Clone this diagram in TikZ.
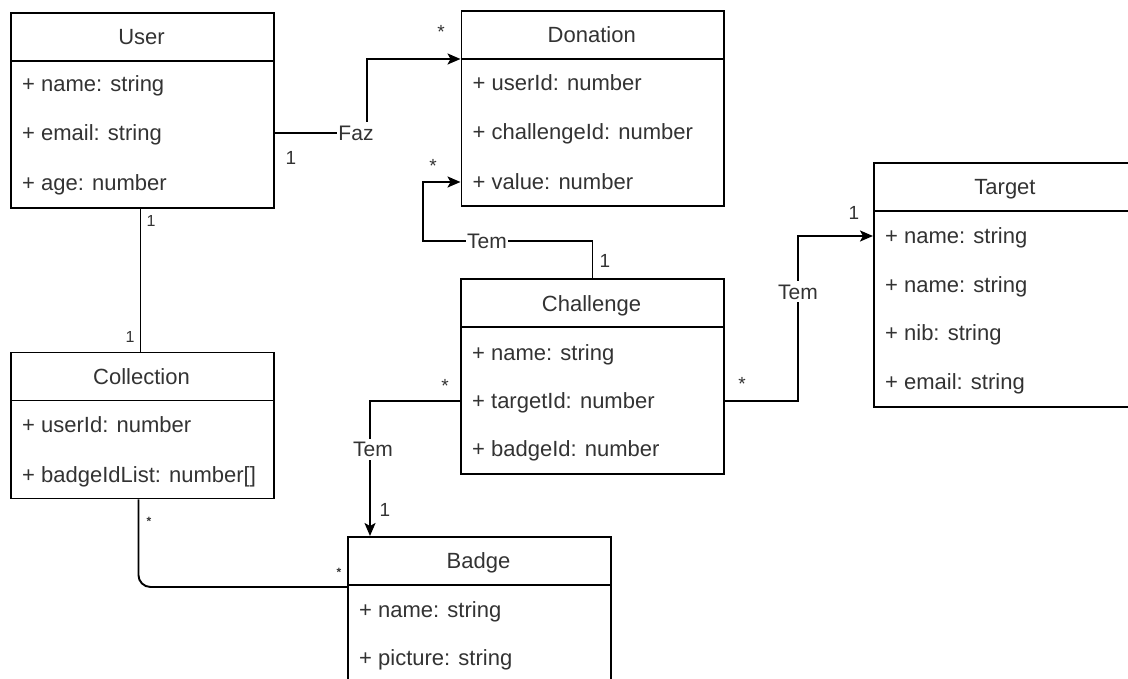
\documentclass[tikz,border=0pt]{standalone}
\usepackage{fontspec}
\setmainfont{Liberation Sans}
\usetikzlibrary{arrows.meta}
\definecolor{ink}{HTML}{333333}
\begin{document}
\begin{tikzpicture}[x=1pt,y=-1pt,
  box/.style={draw=black, line width=1.9pt, fill=white, inner sep=0pt, anchor=north west},
  hline/.style={draw=black, line width=1.9pt},
  title/.style={font=\fontsize{22}{26}\selectfont, text=ink, inner sep=0pt, text height=15.75pt, text depth=0pt},
  attr/.style={title, anchor=west},
  rel/.style={draw=black, line width=1.9pt},
  arr/.style={rel, -{Stealth[length=13pt,width=11pt,inset=3pt]}},
  tag/.style={font=\fontsize{21}{25}\selectfont, text=ink, fill=white, inner xsep=1pt, inner ysep=3pt, text height=15pt, text depth=0pt},
  mult/.style={font=\fontsize{19}{23}\selectfont, text=ink, inner sep=0pt, text height=13.6pt, text depth=0pt},
  multsm/.style={font=\fontsize{16}{19}\selectfont, text=ink, inner sep=0pt, text height=11.5pt, text depth=0pt},
  startiny/.style={font=\fontsize{12}{14}\selectfont\bfseries, text=ink, inner sep=0pt}
]
\useasboundingbox (0,0) rectangle (1128,679);
\clip (0,0) rectangle (1128,679);

% ---------- User ----------
\node[box, minimum width=263pt, minimum height=195pt] (user) at (10,12) {};
\draw[hline] (10,61) coordinate (userHL) -- (273,61);
\node[title] (userT) at (141.5,36.5) {User};
\node[attr] (uname)  at (22,84)  {+ name: string};
\node[attr] (uemail) at (22,133) {+ email: string};
\node[attr] (uage)   at (22,183) {+ age: number};

% ---------- Donation ----------
\node[box, minimum width=262.5pt, minimum height=195pt] (donation) at (460.5,10) {};
\draw[hline] (460.5,59) coordinate (donHL) -- (723,59);
\node[title] (donT) at (591.75,35) {Donation};
\node[attr] (duser)  at (472.5,83)  {+ userId: number};
\node[attr] (dchal)  at (472.5,132) {+ challengeId: number};
\node[attr] (dvalue) at (472.5,182) {+ value: number};

% ---------- Target ----------
\node[box, minimum width=264pt, minimum height=243.5pt] (target) at (873,162.5) {};
\draw[hline] (873,211) coordinate (tarHL) -- (1137,211);
\node[title] (tarT) at (1005,187) {Target};
\node[attr] (tname1) at (885,236) {+ name: string};
\node[attr] (tname2) at (885,285) {+ name: string};
\node[attr] (tnib)   at (885,333) {+ nib: string};
\node[attr] (temail) at (885,382) {+ email: string};

% ---------- Challenge ----------
\node[box, minimum width=263pt, minimum height=195pt] (challenge) at (460,278) {};
\draw[hline] (460,327) coordinate (chaHL) -- (723,327);
\node[title] (chaT) at (591.5,303.5) {Challenge};
\node[attr] (cname)   at (472,353) {+ name: string};
\node[attr] (ctarget) at (472,401) {+ targetId: number};
\node[attr] (cbadge)  at (472,449) {+ badgeId: number};

% ---------- Collection ----------
\node[box, minimum width=263pt, minimum height=146pt] (collection) at (10,351.5) {};
\draw[hline] (10,400.5) coordinate (colHL) -- (273,400.5);
\node[title] (colT) at (141.5,377) {Collection};
\node[attr] (cuser)  at (22,425) {+ userId: number};
\node[attr] (clist)  at (22,475) {+ badgeIdList: number[]};

% ---------- Badge ----------
\node[box, minimum width=263pt, minimum height=160pt] (badge) at (347,536) {};
\draw[hline] (347,585) coordinate (badHL) -- (610,585);
\node[title] (badT) at (478.5,560.5) {Badge};
\node[attr] (bname) at (359,610) {+ name: string};
\node[attr] (bpic)  at (359,658) {+ picture: string};

% ---------- Associations ----------
% User makes Donation
\draw[arr] (user.east |- uemail) -| (366.7,100) |- (donHL);
\node[tag] (faz) at (356,133) {Faz};
\node[mult] (m1) at (291,158) {1};
\node[mult] (m2) at (441,32) {*};

% Challenge has Donation
\draw[arr] (challenge.north) |- (423,240.7) |- (donation.west |- dvalue);
\node[tag] (tem1) at (487,241) {Tem};
\node[mult] (m3) at (433,166) {*};
\node[mult] (m4) at (605,261) {1};

% Challenge has Target
\draw[arr] (challenge.east |- ctarget) -| (798,300) |- (target.west |- tname1);
\node[tag] (tem2) at (798,292) {Tem};
\node[mult] (m5) at (742,384) {*};
\node[mult] (m6) at (854,213) {1};

% Challenge has Badge
\draw[arr] (challenge.west |- ctarget) -| ([xshift=23pt]badge.north west);
\node[tag] (tem3) at (373,449) {Tem};
\node[mult] (m7) at (445,386) {*};
\node[mult] (m8) at (385,510) {1};

% User owns Collection
\draw[rel] ([xshift=-2pt]user.south) -- ([xshift=-2pt]collection.north);
\node[multsm] (m9)  at (151,221) {1};
\node[multsm] (m10) at (130,337) {1};

% Collection lists Badges
\draw[rel, rounded corners=12pt] ([xshift=-4pt]collection.south) |- ([yshift=-2pt]badHL);
\node[startiny] (m11) at (149,521) {*};
\node[startiny] (m12) at (339,572) {*};
\end{tikzpicture}
\end{document}
